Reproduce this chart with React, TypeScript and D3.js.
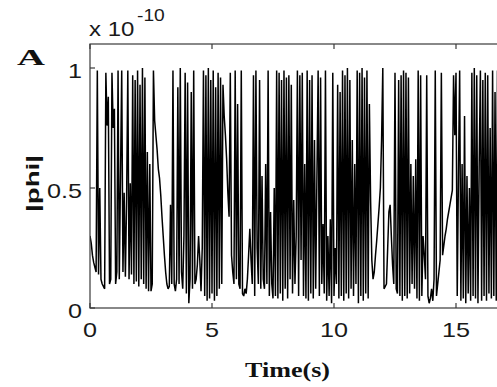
import { useEffect, useRef } from "react";
import * as d3 from "d3";

const W = 497, H = 387;

// |phi| samples (x 1e-10), one every DT seconds
const DT = 0.05;
const PHI = [
  0.30, 0.27, 0.22, 0.19, 0.17, 0.15, 0.99, 0.14, 0.50, 0.12,
  0.10, 0.09, 0.08, 0.98, 0.76, 0.88, 0.10, 0.12, 0.98, 0.75,
  0.83, 0.10, 0.15, 0.99, 0.12, 0.55, 0.99, 0.15, 0.48, 0.13,
  0.45, 0.99, 0.12, 0.52, 0.14, 0.97, 0.10, 0.95, 0.11, 0.99,
  0.09, 0.93, 0.12, 1.00, 0.10, 0.96, 0.08, 0.65, 0.07, 0.60,
  0.07, 0.10, 0.99, 0.78, 0.72, 0.66, 0.58, 0.54, 0.47, 0.38,
  0.30, 0.22, 0.15, 0.10, 0.08, 0.09, 0.43, 0.10, 0.99, 0.10,
  0.07, 0.12, 0.92, 0.10, 1.00, 0.15, 0.08, 0.30, 0.98, 0.06,
  0.94, 0.02, 0.12, 0.90, 0.08, 0.99, 0.10, 0.12, 0.18, 0.30,
  0.20, 0.07, 0.25, 0.99, 0.05, 0.97, 0.03, 1.00, 0.04, 0.95,
  0.06, 0.99, 0.03, 0.92, 0.05, 0.98, 0.08, 0.96, 0.10, 0.93,
  0.80, 0.72, 0.62, 0.48, 0.38, 0.98, 0.22, 0.15, 0.10, 0.99,
  0.12, 0.85, 0.10, 0.08, 0.99, 0.06, 0.05, 0.08, 0.06, 0.12,
  0.22, 0.33, 0.20, 0.10, 0.97, 0.05, 0.99, 0.25, 0.10, 0.95,
  0.08, 0.55, 0.12, 0.08, 0.60, 0.10, 0.99, 0.05, 0.40, 0.10,
  0.04, 0.50, 0.05, 0.99, 0.04, 0.98, 0.06, 0.95, 0.03, 0.99,
  0.08, 0.96, 0.04, 0.97, 0.12, 0.93, 0.06, 0.45, 0.10, 0.30,
  0.99, 0.05, 0.97, 0.20, 0.98, 0.05, 0.60, 0.04, 0.99, 0.03,
  0.95, 0.06, 0.97, 0.04, 0.70, 0.08, 0.55, 0.99, 0.05, 0.96,
  0.10, 0.35, 0.06, 0.99, 0.03, 0.30, 0.05, 0.37, 0.02, 0.98,
  0.05, 0.25, 0.10, 0.93, 0.04, 0.90, 0.05, 0.99, 0.03, 0.97,
  0.06, 1.00, 0.04, 0.95, 0.08, 0.70, 0.05, 0.60, 0.10, 0.99,
  0.02, 0.98, 0.05, 1.00, 0.03, 0.96, 0.06, 0.99, 0.04, 0.85,
  0.45, 0.20, 0.12, 0.15, 0.22, 0.28, 0.35, 0.42, 0.50, 0.70,
  1.00, 0.08, 0.09, 0.10, 0.25, 0.40, 0.43, 0.30, 0.18, 0.10,
  0.98, 0.08, 0.06, 0.95, 0.05, 0.97, 0.03, 0.99, 0.05, 0.98,
  0.04, 0.96, 0.06, 0.60, 0.10, 0.55, 0.08, 0.62, 0.04, 0.99,
  0.03, 0.97, 0.05, 0.30, 0.22, 0.12, 0.97, 0.05, 0.02, 0.04,
  0.08, 0.03, 0.12, 0.99, 0.05, 0.10, 0.15, 0.20, 0.98, 0.22,
  0.26, 0.30, 0.33, 0.37, 0.40, 0.43, 0.46, 0.49, 0.97, 0.72,
  0.98, 0.05, 0.55, 0.99, 0.03, 0.60, 0.04, 0.80, 0.02, 0.55,
  0.06, 0.50, 0.03, 0.98, 0.05, 1.00, 0.04, 0.97, 0.02, 0.60,
  0.99, 0.03, 0.95, 0.05, 0.98, 0.03, 0.97, 0.06, 0.75, 0.04,
  0.99, 0.05, 0.90, 0.03, 0.99, 0.05, 0.90,
];

// axis runs on past the right edge of the picture (cropped figure)
const X_DOMAIN = [0, 20];
const Y_DOMAIN = [0, 1.1];
const X_TICKS = [0, 5, 10, 15];
const Y_TICKS = [0, 0.5, 1];

const SANS = "'Liberation Sans', Arial, sans-serif";
const SERIF = "'Liberation Serif', 'Times New Roman', serif";

// Arial advance widths, used to stretch the labels the way the source image is
const ADV: Record<string, number> = { ".": 0.278, "-": 0.333, x: 0.5, " ": 0.278 };
const textLen = (s: string, size: number, k = 1.2) =>
  s.split("").reduce((a, c) => a + (ADV[c] ?? 0.556), 0) * size * k;

export default function App() {
  const ref = useRef<SVGSVGElement>(null);

  useEffect(() => {
    const el = ref.current;
    if (!el) return;
    const svg = d3.select(el);
    svg.selectAll("*").remove();

    const x = d3.scaleLinear().domain(X_DOMAIN).range([90, 578]);
    const y = d3.scaleLinear().domain(Y_DOMAIN).range([308, 44]);
    const [x0, x1] = x.range();
    const [yb, yt] = y.range();

    svg.append("rect").attr("width", W).attr("height", H).attr("fill", "#fff");

    svg.append("defs").append("clipPath").attr("id", "plotClip")
      .append("rect").attr("x", x0).attr("y", yt).attr("width", x1 - x0).attr("height", yb - yt);

    // signal
    const line = d3.line<number>().x((_, i) => x(i * DT)).y(d => y(d));
    svg.append("path").datum(PHI)
      .attr("clip-path", "url(#plotClip)")
      .attr("fill", "none").attr("stroke", "#000")
      .attr("stroke-width", 1.5).attr("stroke-linejoin", "bevel")
      .attr("d", line);

    // box
    svg.append("rect")
      .attr("x", x0).attr("y", yt).attr("width", x1 - x0).attr("height", yb - yt)
      .attr("fill", "none").attr("stroke", "#3a3a3a").attr("stroke-width", 1.2);

    const TL = 5;
    const tk = svg.append("g").attr("stroke", "#3a3a3a").attr("stroke-width", 1.2);
    X_TICKS.forEach(t => {
      tk.append("line").attr("x1", x(t)).attr("x2", x(t)).attr("y1", yb).attr("y2", yb - TL);
      tk.append("line").attr("x1", x(t)).attr("x2", x(t)).attr("y1", yt).attr("y2", yt + TL);
    });
    Y_TICKS.forEach(t => {
      tk.append("line").attr("x1", x0).attr("x2", x0 + TL).attr("y1", y(t)).attr("y2", y(t));
    });

    // tick labels
    const FS = 21;
    X_TICKS.forEach(t => {
      const s = String(t);
      svg.append("text").attr("x", x(t)).attr("y", yb + 29)
        .attr("text-anchor", "middle").attr("font-family", SANS).attr("font-size", FS)
        .attr("fill", "#1a1a1a")
        .attr("textLength", textLen(s, FS)).attr("lengthAdjust", "spacingAndGlyphs")
        .text(s);
    });
    Y_TICKS.forEach(t => {
      const s = String(t);
      svg.append("text").attr("x", x0 - 8).attr("y", y(t) + 9.5)
        .attr("text-anchor", "end").attr("font-family", SANS).attr("font-size", FS)
        .attr("fill", "#1a1a1a")
        .attr("textLength", textLen(s, FS)).attr("lengthAdjust", "spacingAndGlyphs")
        .text(s);
    });

    // exponent
    svg.append("text").attr("x", x0 - 1).attr("y", 36)
      .attr("font-family", SANS).attr("font-size", 20).attr("fill", "#1a1a1a")
      .attr("textLength", textLen("x 10", 20)).attr("lengthAdjust", "spacingAndGlyphs")
      .text("x 10");
    svg.append("text").attr("x", x0 + 47).attr("y", 21)
      .attr("font-family", SANS).attr("font-size", 16).attr("fill", "#1a1a1a")
      .attr("textLength", textLen("-10", 16)).attr("lengthAdjust", "spacingAndGlyphs")
      .text("-10");

    // panel letter
    svg.append("text").attr("x", 17).attr("y", 65)
      .attr("font-family", SERIF).attr("font-weight", "bold").attr("font-size", 24)
      .attr("fill", "#111")
      .attr("textLength", 28).attr("lengthAdjust", "spacingAndGlyphs")
      .text("A");

    // y label
    svg.append("text")
      .attr("transform", "translate(39,183.5) rotate(-90)")
      .attr("text-anchor", "middle")
      .attr("font-family", SANS).attr("font-weight", "bold").attr("font-size", 18)
      .attr("fill", "#111")
      .attr("textLength", 57).attr("lengthAdjust", "spacingAndGlyphs")
      .text("|phi|");

    // x label
    svg.append("text").attr("x", 287.5).attr("y", 377)
      .attr("text-anchor", "middle")
      .attr("font-family", SERIF).attr("font-weight", "bold").attr("font-size", 20)
      .attr("fill", "#111")
      .attr("textLength", 85).attr("lengthAdjust", "spacingAndGlyphs")
      .text("Time(s)");
  }, []);

  return (
    <svg
      ref={ref}
      width={W}
      height={H}
      style={{ position: "absolute", left: 0, top: 0, display: "block" }}
    />
  );
}
